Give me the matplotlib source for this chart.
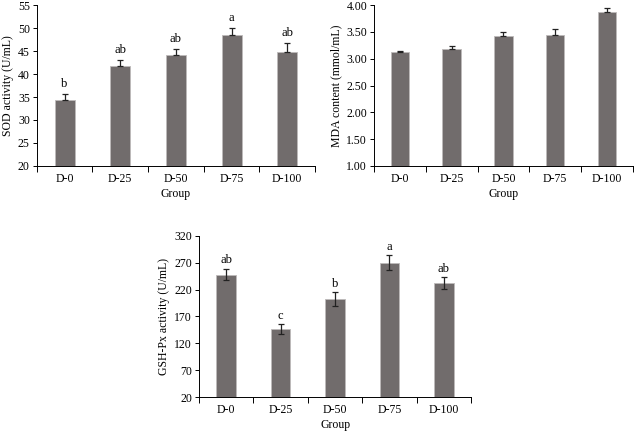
import matplotlib
matplotlib.use("Agg")
import matplotlib.pyplot as plt
import numpy as np

plt.rcParams['font.family'] = ['Liberation Serif', 'DejaVu Serif']

grupos = ["D-0", "D-25", "D-50", "D-75", "D-100"]

sod = [34.4, 41.8, 44.1, 48.5, 44.8]
sod_err = [1.3, 1.3, 1.4, 1.5, 2.0]
sod_letras = ["b", "ab", "ab", "a", "ab"]

mda = [3.12, 3.19, 3.42, 3.45, 3.88]
mda_err = [0.03, 0.04, 0.08, 0.10, 0.07]

gsh = [248, 146, 202, 270, 233]
gsh_err = [11, 9, 13, 14, 11]
gsh_letras = ["ab", "c", "b", "a", "ab"]

color_barra = "#716c6c"
fs = 8.5


def panel(ax, vals, errs, ylim, yticks, ylabel, fmt, letras=None, ambos=False, off=0.0):
    x = np.arange(len(grupos))
    yerr = errs if ambos else [np.zeros(len(errs)), errs]
    ax.bar(x, vals, width=0.36, color=color_barra, edgecolor="#bdbaba", linewidth=0.6,
           yerr=yerr, error_kw=dict(ecolor="#222222", elinewidth=0.9, capsize=2.5, capthick=0.9))
    ax.set_xlim(-0.5, len(grupos) - 0.5)
    ax.set_ylim(*ylim)
    ax.set_yticks(yticks)
    ax.set_yticklabels([fmt.format(v) for v in yticks], fontsize=fs)
    ax.set_xticks(x)
    ax.set_xticklabels(grupos, fontsize=fs)
    ax.tick_params(axis="x", which="major", length=0, pad=5)
    ax.set_xticks(np.arange(-0.5, len(grupos), 1.0), minor=True)
    ax.tick_params(axis="x", which="minor", length=4, width=0.7)
    ax.tick_params(axis="y", length=3, width=0.7, pad=2)
    for s in ["top", "right"]:
        ax.spines[s].set_visible(False)
    for s in ["left", "bottom"]:
        ax.spines[s].set_linewidth(0.7)
    ax.set_xlabel("Group", fontsize=fs, labelpad=2)
    ax.set_ylabel(ylabel, fontsize=fs, labelpad=3)
    if letras:
        for xi, v, e, l in zip(x, vals, errs, letras):
            ax.text(xi, v + e + off, l, ha="center", va="bottom", fontsize=fs + 0.5)


fig = plt.figure(figsize=(6.34, 4.32), dpi=100)
ax1 = fig.add_axes([0.058, 0.616, 0.439, 0.372])
ax2 = fig.add_axes([0.590, 0.616, 0.408, 0.372])
ax3 = fig.add_axes([0.314, 0.081, 0.429, 0.373])

panel(ax1, sod, sod_err, (20, 55), list(range(20, 56, 5)), "SOD activity (U/mL)", "{:.0f}",
      sod_letras, off=0.8)
panel(ax2, mda, mda_err, (1.0, 4.0), [1.0, 1.5, 2.0, 2.5, 3.0, 3.5, 4.0],
      "MDA content (mmol/mL)", "{:.2f}")
panel(ax3, gsh, gsh_err, (20, 320), list(range(20, 321, 50)), "GSH-Px activity (U/mL)", "{:.0f}",
      gsh_letras, ambos=True, off=4)

fig.savefig("out.png", dpi=100)
